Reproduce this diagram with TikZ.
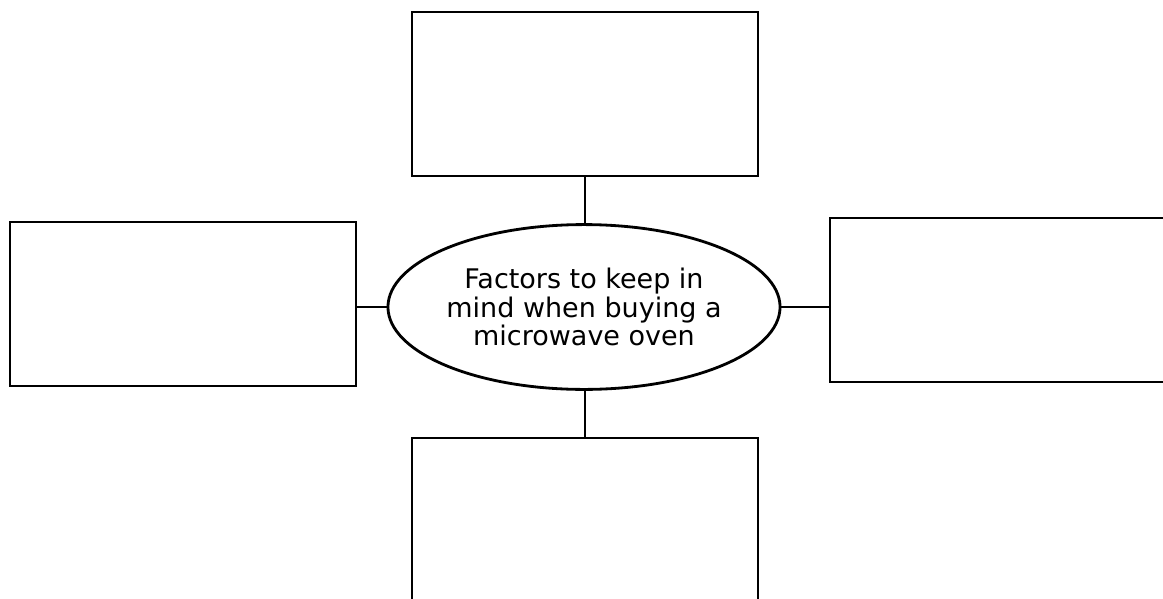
\documentclass[tikz,border=0pt]{standalone}
\usepackage{fontspec}
\setmainfont{DejaVu Sans}
\usetikzlibrary{shapes.geometric}

\begin{document}
\begin{tikzpicture}[x=0.025cm, y=-0.025cm,
        factorbox/.style={draw, line width=2pt, minimum width=8.65cm, minimum height=4.1cm},
        link/.style={line width=2pt}]
        \useasboundingbox (0,0) rectangle (1163,598);
        \clip (0,0) rectangle (1163,598);
        \node[ellipse, draw, line width=2pt, inner sep=0pt, minimum width=9.8cm, minimum height=4.12cm, align=center, font=\fontsize{19.2}{20}\selectfont] (factors) at (584,307) {Factors to keep in\\mind when buying a\\microwave oven};
        \node[factorbox] (topbox) at (585,94) {};
        \node[factorbox] (leftbox) at (183,304) {};
        \node[factorbox] (rightbox) at (1003,300) {};
        \node[factorbox] (bottombox) at (585,520) {};
        \draw[link] (topbox.south) -- (topbox.south |- factors.north);
        \draw[link] (factors.west -| leftbox.east) -- (factors.west);
        \draw[link] (factors.east) -- (factors.east -| rightbox.west);
        \draw[link] (factors.south -| bottombox.north) -- (bottombox.north);
    \end{tikzpicture}
\end{document}
